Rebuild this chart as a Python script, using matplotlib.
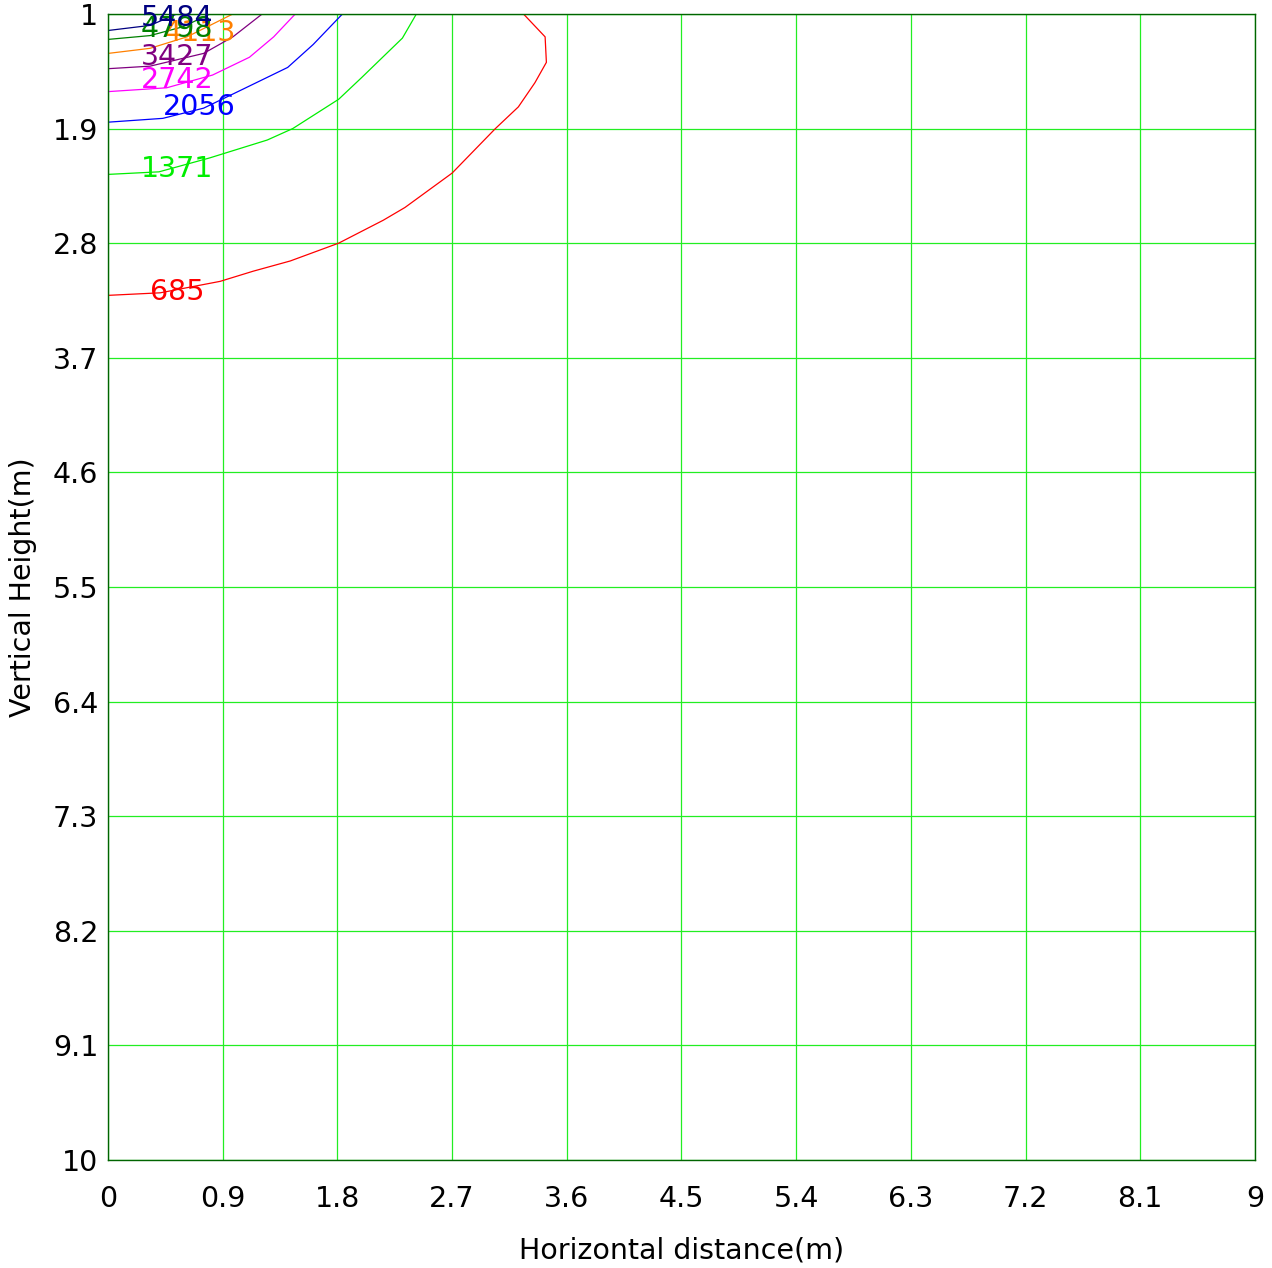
import matplotlib
matplotlib.use("Agg")
import matplotlib.pyplot as plt
import numpy as np

# contour levels and their traced lines (x, y) in metres
levels = [685, 1371, 2056, 2742, 3427, 4113, 4798, 5484]
colors = ["#ff0000", "#00ee00", "#0000ff", "#ff00ff", "#800080", "#ff8000", "#008000", "#000080"]

line_685_x = [0.0, 0.41, 0.88, 1.14, 1.43, 1.81, 2.16, 2.33, 2.70, 3.04, 3.22, 3.35, 3.44, 3.43, 3.26]
line_685_y = [3.21, 3.19, 3.10, 3.02, 2.94, 2.80, 2.62, 2.52, 2.25, 1.90, 1.73, 1.54, 1.38, 1.18, 1.0]
line_1371_x = [0.0, 0.40, 0.80, 1.25, 1.45, 1.81, 1.99, 2.31, 2.42]
line_1371_y = [2.26, 2.24, 2.13, 1.99, 1.90, 1.67, 1.50, 1.19, 1.0]
line_2056_x = [0.0, 0.43, 0.75, 1.04, 1.41, 1.61, 1.84]
line_2056_y = [1.85, 1.82, 1.74, 1.60, 1.42, 1.24, 1.0]
line_2742_x = [0.0, 0.46, 0.82, 1.11, 1.30, 1.47]
line_2742_y = [1.61, 1.58, 1.48, 1.34, 1.18, 1.0]
line_3427_x = [0.0, 0.33, 0.75, 0.98, 1.21]
line_3427_y = [1.43, 1.41, 1.31, 1.18, 1.0]
line_4113_x = [0.0, 0.33, 0.62, 0.98]
line_4113_y = [1.31, 1.27, 1.18, 1.0]
line_4798_x = [0.0, 0.33, 0.59, 0.80]
line_4798_y = [1.20, 1.17, 1.10, 1.0]
line_5484_x = [0.0, 0.33, 0.54]
line_5484_y = [1.13, 1.09, 1.0]

# label anchors (centre of text)
label_x = [0.54, 0.54, 0.72, 0.54, 0.54, 0.72, 0.54, 0.54]
label_y = [3.18, 2.22, 1.73, 1.52, 1.34, 1.15, 1.12, 1.03]

lines_x = [line_685_x, line_1371_x, line_2056_x, line_2742_x, line_3427_x, line_4113_x, line_4798_x, line_5484_x]
lines_y = [line_685_y, line_1371_y, line_2056_y, line_2742_y, line_3427_y, line_4113_y, line_4798_y, line_5484_y]

x_ticks = [0, 0.9, 1.8, 2.7, 3.6, 4.5, 5.4, 6.3, 7.2, 8.1, 9]
y_ticks = [1, 1.9, 2.8, 3.7, 4.6, 5.5, 6.4, 7.3, 8.2, 9.1, 10]

fig = plt.figure(figsize=(12.72, 12.68), dpi=100)
ax = fig.add_axes([0.0849, 0.0852, 0.9017, 0.9038])

for lx, ly, c in zip(lines_x, lines_y, colors):
    ax.plot(lx, ly, color=c, lw=0.9)

for lev, tx, ty, c in zip(levels, label_x, label_y, colors):
    ax.text(tx, ty, str(lev), color=c, fontsize=20.5, ha="center", va="center")

ax.set_xlim(0, 9)
ax.set_ylim(10, 1)
ax.set_xticks(x_ticks)
ax.set_yticks(y_ticks)
ax.set_xticklabels([f"{v:g}" for v in x_ticks])
ax.set_yticklabels([f"{v:g}" for v in y_ticks])
ax.grid(True, color="#22ee22", lw=0.9)
ax.set_axisbelow(True)
ax.tick_params(length=0, labelsize=20.5, pad=7)
ax.tick_params(axis="x", pad=18)
for s in ax.spines.values():
    s.set_color("#006400")
    s.set_linewidth(1.0)

ax.set_xlabel("Horizontal distance(m)", fontsize=20.5, labelpad=17)
ax.set_ylabel("Vertical Height(m)", fontsize=20.5, labelpad=11)

fig.savefig("out.png", dpi=100)
